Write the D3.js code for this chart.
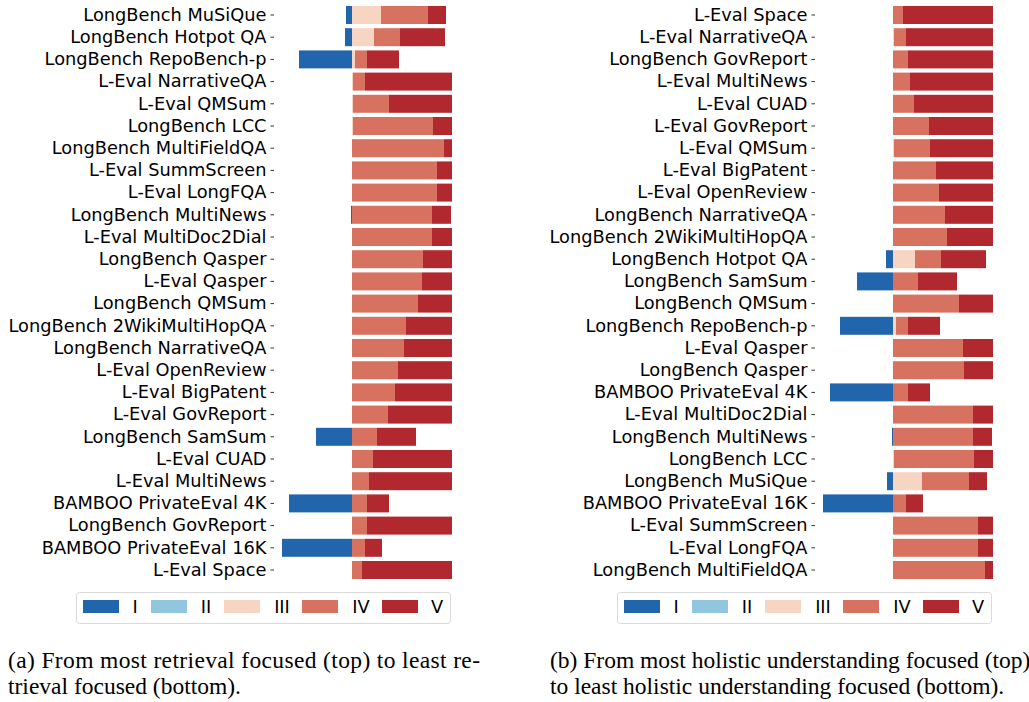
<!DOCTYPE html>
<html>
<head>
<meta charset="utf-8">
<script src="https://cdn.jsdelivr.net/npm/d3@7"></script>
<style>
  body { margin: 0; background: #fff; }
  svg { display: block; }
</style>
</head>
<body>
<div id="fig"></div>
<script>
// tasks, in the order of panel (a)
var categories = [
  "LongBench MuSiQue", "LongBench Hotpot QA", "LongBench RepoBench-p", "L-Eval NarrativeQA",
  "L-Eval QMSum", "LongBench LCC", "LongBench MultiFieldQA", "L-Eval SummScreen",
  "L-Eval LongFQA", "LongBench MultiNews", "L-Eval MultiDoc2Dial", "LongBench Qasper",
  "L-Eval Qasper", "LongBench QMSum", "LongBench 2WikiMultiHopQA", "LongBench NarrativeQA",
  "L-Eval OpenReview", "L-Eval BigPatent", "L-Eval GovReport", "LongBench SamSum",
  "L-Eval CUAD", "L-Eval MultiNews", "BAMBOO PrivateEval 4K", "LongBench GovReport",
  "BAMBOO PrivateEval 16K", "L-Eval Space"
];

// share (%) of each level per task
var valI   = [6, 7, 53, 0, 0, 0, 0, 0, 0, 1, 0, 0, 0, 0, 0, 0, 0, 0, 0, 36, 0, 0, 63, 0, 70, 0];
var valII  = [0, 0, 0, 0, 0, 0, 0, 0, 0, 0, 0, 0, 0, 0, 0, 0, 0, 0, 0, 0, 0, 0, 0, 0, 0, 0];
var valIII = [29, 22, 3, 1, 1, 1, 0, 0, 0, 0, 0, 0, 0, 0, 0, 0, 0, 0, 0, 0, 0, 0, 0, 0, 0, 0];
var valIV  = [47, 26, 12, 12, 36, 80, 92, 85, 85, 80, 80, 71, 70, 66, 54, 52, 46, 43, 36, 25, 21, 17, 15, 15, 13, 10];
var valV   = [18, 45, 32, 87, 63, 19, 8, 15, 15, 19, 20, 29, 30, 34, 46, 48, 54, 57, 64, 39, 79, 83, 22, 85, 17, 90];

// order of panel (b)
var orderB = [
  "L-Eval Space", "L-Eval NarrativeQA", "LongBench GovReport", "L-Eval MultiNews",
  "L-Eval CUAD", "L-Eval GovReport", "L-Eval QMSum", "L-Eval BigPatent",
  "L-Eval OpenReview", "LongBench NarrativeQA", "LongBench 2WikiMultiHopQA", "LongBench Hotpot QA",
  "LongBench SamSum", "LongBench QMSum", "LongBench RepoBench-p", "L-Eval Qasper",
  "LongBench Qasper", "BAMBOO PrivateEval 4K", "L-Eval MultiDoc2Dial", "LongBench MultiNews",
  "LongBench LCC", "LongBench MuSiQue", "BAMBOO PrivateEval 16K", "L-Eval SummScreen",
  "L-Eval LongFQA", "LongBench MultiFieldQA"
];

var levels = ["I", "II", "III", "IV", "V"];
var colors = ["#2166ac", "#92c5de", "#f6d5c3", "#d6725f", "#b1282e"];

var captionA = ["(a) From most retrieval focused (top) to least re-", "trieval focused (bottom)."];
var captionB = ["(b) From most holistic understanding focused (top)", "to least holistic understanding focused (bottom)."];

// build rows; level I goes to the left of zero
var rows = categories.map(function(c, i) {
  return { name: c, I: -valI[i], II: valII[i], III: valIII[i], IV: valIV[i], V: valV[i] };
});
var byName = {};
rows.forEach(function(r) { byName[r.name] = r; });

var width = 1029, height = 702;
var svg = d3.select("#fig").append("svg")
  .attr("width", width)
  .attr("height", height);

var color = d3.scaleOrdinal().domain(levels).range(colors);

var stack = d3.stack().keys(levels).offset(d3.stackOffsetDiverging);

// legend swatch offsets and label centres inside the legend box (matplotlib spacing)
var swatchX = [7, 75, 148, 226, 306];
var labelX = [59, 130, 206, 285, 361];

function panel(order, axisX, legendX, caption, captionX, justify) {
  var data = order.map(function(n) { return byName[n]; });

  var x = d3.scaleLinear().domain([-78, 100]).range([axisX, axisX + 178]);
  var y = d3.scaleBand().domain(order)
    .range([3.9, 581.1])
    .paddingInner(0.19)
    .paddingOuter(0.095);

  var g = svg.append("g");
  var series = stack(data);

  g.selectAll("g.series")
    .data(series)
    .enter()
    .append("g")
    .attr("fill", function(d) { return color(d.key); })
    .selectAll("rect")
    .data(function(d) { return d; })
    .enter()
    .append("rect")
    .attr("x", function(d) { return x(d[0]); })
    .attr("width", function(d) { return Math.max(0, x(d[1]) - x(d[0])); })
    .attr("y", function(d) { return y(d.data.name); })
    .attr("height", y.bandwidth());

  // y axis: ticks and labels only, no spine
  var ax = g.append("g")
    .attr("transform", "translate(" + axisX + ",0)")
    .call(d3.axisLeft(y).tickSize(3.5).tickPadding(4));
  ax.select(".domain").remove();
  ax.selectAll(".tick line").attr("stroke", "#000").attr("stroke-width", 0.8);
  ax.selectAll("text")
    .style("font-family", "'DejaVu Sans', sans-serif")
    .style("font-size", "17.8px")
    .attr("fill", "#000");

  // legend
  var lg = svg.append("g").attr("transform", "translate(" + legendX + ",592)");
  lg.append("rect")
    .attr("x", 0.5).attr("y", 0.5)
    .attr("width", 374).attr("height", 31)
    .attr("rx", 3)
    .attr("fill", "#fff")
    .attr("stroke", "#d9d9d9");
  var item = lg.selectAll("g.item")
    .data(levels)
    .enter()
    .append("g");
  item.append("rect")
    .attr("x", function(d, i) { return swatchX[i]; })
    .attr("y", 8)
    .attr("width", 36).attr("height", 13)
    .attr("fill", function(d) { return color(d); });
  item.append("text")
    .attr("x", function(d, i) { return labelX[i]; })
    .attr("y", 15)
    .attr("dy", "0.35em")
    .attr("text-anchor", "middle")
    .style("font-family", "'DejaVu Sans', sans-serif")
    .style("font-size", "17.8px")
    .text(function(d) { return d; });

  // caption
  svg.append("g").selectAll("text")
    .data(caption)
    .enter()
    .append("text")
    .attr("x", captionX)
    .attr("y", function(d, i) { return 668 + i * 25.5; })
    .attr("textLength", function(d, i) { return (i === 0 && justify) ? justify : null; })
    .attr("lengthAdjust", "spacing")
    .style("font-family", "'Liberation Serif', 'Times New Roman', serif")
    .style("font-size", "23.5px")
    .attr("fill", "#000")
    .text(function(d) { return d; });
}

panel(categories, 274, 76, captionA, 8, 472);
panel(orderB, 815, 617, captionB, 550, null);
</script>
</body>
</html>
